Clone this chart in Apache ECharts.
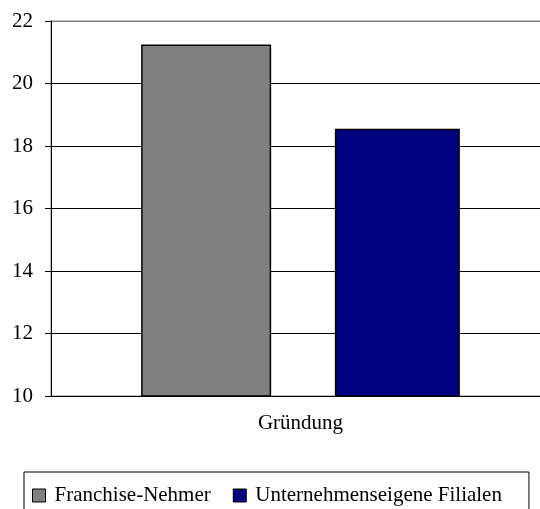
<!DOCTYPE html>
<html>
<head>
<meta charset="utf-8">
<script src="https://cdn.jsdelivr.net/npm/echarts@6/dist/echarts.min.js"></script>
<style>
  html, body { margin: 0; padding: 0; background: #fff; }
  #chart { width: 540px; height: 509px; }
</style>
</head>
<body>
<div id="chart"></div>
<script>
// Categories, series and axis settings
const categories = ['Gründung'];
const seriesNames = ['Franchise-Nehmer', 'Unternehmenseigene Filialen'];
const franchiseValues = [21.25];
const filialenValues = [18.55];
const seriesColors = ['#808080', '#000080'];
const yMin = 10;
const yMax = 22;
const yStep = 2;

const FONT = '"Liberation Serif", "Times New Roman", serif';

const chart = echarts.init(document.getElementById('chart'), null, { renderer: 'canvas' });

// top gridline is the grey plot-area border, the rest are black
const lineCount = (yMax - yMin) / yStep + 1;
const splitColors = [];
for (let i = 0; i < lineCount; i++) splitColors.push(i === lineCount - 1 ? '#808080' : '#000000');

chart.setOption({
  animation: false,
  backgroundColor: '#ffffff',
  textStyle: { fontFamily: FONT, color: '#000' },
  grid: {
    left: 51, right: -10, top: 21, bottom: 113,
    outerBoundsMode: 'none',
    containLabel: false,
    show: true, borderColor: '#808080', borderWidth: 1
  },
  legend: {
    data: seriesNames,
    left: 24, top: 472,
    orient: 'horizontal',
    icon: 'rect',
    itemWidth: 13, itemHeight: 13,
    itemGap: 22,
    padding: [13, 27, 13, 8],
    borderColor: '#000', borderWidth: 1,
    backgroundColor: '#fff',
    itemStyle: { borderColor: '#000', borderWidth: 1 },
    textStyle: { fontFamily: FONT, fontSize: 21, color: '#000', padding: [0, 0, 0, 4] }
  },
  xAxis: {
    type: 'category',
    data: categories,
    axisLine: { show: true, lineStyle: { color: '#000', width: 1 } },
    axisTick: { show: false },
    axisLabel: { fontFamily: FONT, fontSize: 21, color: '#000', margin: 17 },
    splitLine: { show: false }
  },
  yAxis: {
    type: 'value',
    min: yMin, max: yMax, interval: yStep,
    axisLine: { show: true, lineStyle: { color: '#000', width: 1 } },
    axisTick: { show: true, inside: false, length: 6, lineStyle: { color: '#000' } },
    axisLabel: { fontFamily: FONT, fontSize: 21, color: '#000', margin: 18 },
    splitLine: { show: true, lineStyle: { color: splitColors, width: 1 } }
  },
  series: [
    {
      name: seriesNames[0], type: 'bar', data: franchiseValues,
      barWidth: 130, barGap: '49%',
      itemStyle: { color: seriesColors[0], borderColor: '#000', borderWidth: 1.5 }
    },
    {
      name: seriesNames[1], type: 'bar', data: filialenValues,
      barWidth: 125, barGap: '49%',
      itemStyle: { color: seriesColors[1], borderColor: '#000', borderWidth: 1.5 }
    }
  ]
});
</script>
</body>
</html>
